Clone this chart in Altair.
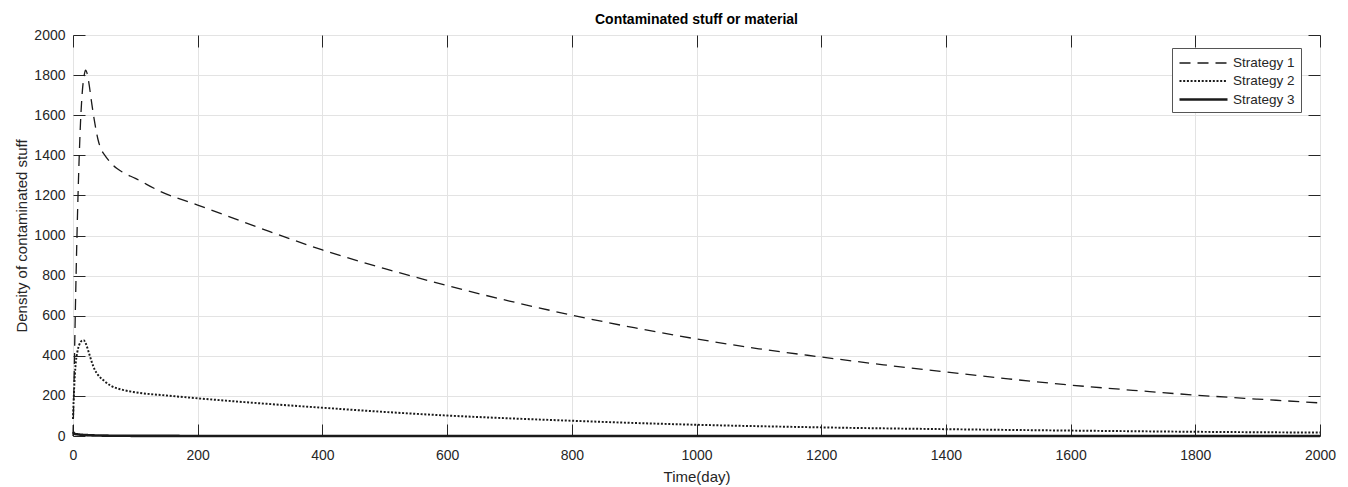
import altair as alt
import pandas as pd

# ---- data ----
t1 = [0, 1, 3, 6, 9, 12, 15, 18, 20, 22, 25, 30, 35, 40, 45, 50, 60, 70, 80, 100, 140, 200,
      300, 400, 500, 600, 700, 800, 900, 1000, 1100, 1200, 1300, 1400, 1500, 1600, 1700, 1800, 1900, 2000]
s1 = [0, 150, 500, 950, 1300, 1560, 1720, 1800, 1825, 1815, 1770, 1660, 1560, 1480, 1430, 1405, 1365, 1335, 1315, 1285, 1220, 1152,
      1037, 928, 835, 750, 673, 603, 540, 484, 435, 394, 355, 319, 285, 254, 228, 204, 184, 165]

t2 = [0, 2, 4, 7, 10, 14, 17, 20, 25, 30, 35, 40, 50, 60, 80, 100, 150, 200, 300, 400, 500,
      600, 700, 800, 900, 1000, 1200, 1400, 1600, 1800, 2000]
s2 = [85, 250, 350, 420, 455, 475, 478, 465, 420, 370, 330, 305, 275, 252, 230, 218, 202, 188, 163, 141, 120,
      102, 88, 76, 65, 56, 43, 34, 27, 21, 17]

t3 = [0, 3, 8, 15, 25, 40, 60, 100, 200, 400, 2000]
s3 = [20, 10, 8, 6, 4, 2.5, 1.5, 0.8, 0.3, 0.1, 0]

series_names = ["Strategy 1", "Strategy 2", "Strategy 3"]
x_ticks = list(range(0, 2001, 200))
y_ticks = list(range(0, 2001, 200))

rows = []
for name, ts, vs in zip(series_names, [t1, t2, t3], [s1, s2, s3]):
    for t, v in zip(ts, vs):
        rows.append({"t": t, "v": v, "series": name})
df = pd.DataFrame(rows)

FONT = "Liberation Sans"
INK = "#262626"

x_scale = alt.Scale(domain=[0, 2000], nice=False, zero=False)
y_scale = alt.Scale(domain=[0, 2000], nice=False)

legend = alt.Legend(
    title=None, orient="none", legendX=1099, legendY=13,
    fillColor="white", strokeColor="#555555", padding=6,
    labelFont=FONT, labelFontSize=13.5, labelColor=INK,
    symbolType="M-3,0H3", symbolSize=256, symbolOffset=16, labelOffset=20,
    symbolStrokeColor="#1a1a1a", rowPadding=2,
)

base = alt.Chart(df)

lines = base.mark_line(color="#1a1a1a", interpolate="monotone").encode(
    x=alt.X("t:Q", scale=x_scale,
            axis=alt.Axis(title="Time(day)", values=x_ticks, format="d", grid=True, ticks=False, domain=False,
                          labelPadding=12, titlePadding=7, labelFontSize=14, titleFontSize=15,
                          labelColor=INK, titleColor=INK, labelFont=FONT, titleFont=FONT,
                          titleFontWeight="normal", gridColor="#e3e3e3", labelFlush=False)),
    y=alt.Y("v:Q", scale=y_scale,
            axis=alt.Axis(title="Density of contaminated stuff", values=y_ticks, format="d", grid=True,
                          ticks=False, domain=False, labelPadding=8, titlePadding=4, labelFontSize=14,
                          titleFontSize=15, labelColor=INK, titleColor=INK, labelFont=FONT, titleFont=FONT,
                          titleFontWeight="normal", gridColor="#e3e3e3", labelFlush=False)),
    strokeDash=alt.StrokeDash("series:N",
                              scale=alt.Scale(domain=series_names, range=[[11, 7], [2, 1.7], [1, 0]]),
                              legend=legend),
    strokeWidth=alt.StrokeWidth("series:N",
                                scale=alt.Scale(domain=series_names, range=[1.3, 2.6, 1.1]),
                                legend=legend),
    detail="series:N",
)

tick_ax = dict(labels=False, domain=False, grid=False, title=None, tickSize=12, offset=-12,
               tickColor=INK, tickWidth=1)

ticks_bl = base.mark_point(opacity=0).encode(
    x=alt.X("t:Q", scale=x_scale, axis=alt.Axis(orient="bottom", values=x_ticks, **tick_ax)),
    y=alt.Y("v:Q", scale=y_scale, axis=alt.Axis(orient="left", values=y_ticks, **tick_ax)),
)
ticks_tr = base.mark_point(opacity=0).encode(
    x=alt.X("t:Q", scale=x_scale, axis=alt.Axis(orient="top", values=x_ticks, **tick_ax)),
    y=alt.Y("v:Q", scale=y_scale, axis=alt.Axis(orient="right", values=y_ticks, **tick_ax)),
)

chart = alt.layer(lines, ticks_bl, ticks_tr).resolve_axis(
    x="independent", y="independent"
).properties(
    width=1247,
    height=401,
    title=alt.TitleParams("Contaminated stuff or material", font=FONT, fontSize=14,
                          fontWeight="bold", color="#000000", offset=1, anchor="middle"),
    autosize=alt.AutoSizeParams(type="none"),
    padding={"left": 73, "top": 35, "right": 28, "bottom": 51},
).configure_view(
    stroke=INK, strokeWidth=1
).configure(background="white")

chart.save("out.html", embed_options={"renderer": "svg", "actions": False})
